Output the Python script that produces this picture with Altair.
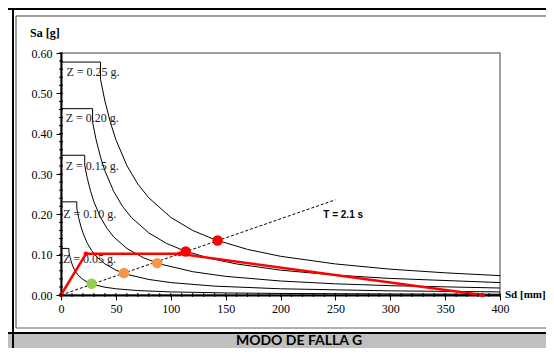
import altair as alt
import pandas as pd

# ---------------- data ----------------
z_names = ["Z = 0.05 g.", "Z = 0.10 g.", "Z = 0.15 g.", "Z = 0.20 g.", "Z = 0.25 g."]

sd_z05 = [0, 7.2, 7.2, 8, 9, 10, 12, 14, 16, 20, 25, 30, 40, 50, 70, 100, 150, 200, 300, 400]
sa_z05 = [0.1155, 0.1155, 0.107, 0.096, 0.086, 0.077, 0.064, 0.055, 0.048, 0.0385, 0.031, 0.0257,
          0.0193, 0.0154, 0.011, 0.0077, 0.0051, 0.0039, 0.0026, 0.0019]

sd_z10 = [0, 14.4, 14.4, 16, 18, 20, 24, 28, 32, 40, 50, 60, 80, 100, 140, 200, 300, 400]
sa_z10 = [0.231, 0.231, 0.214, 0.1925, 0.171, 0.154, 0.128, 0.11, 0.096, 0.077, 0.0616, 0.0513,
          0.0385, 0.0308, 0.022, 0.0154, 0.0103, 0.0077]

sd_z15 = [0, 21.6, 21.6, 24, 27, 30, 36, 42, 48, 60, 75, 90, 120, 150, 200, 250, 300, 400]
sa_z15 = [0.3465, 0.3465, 0.321, 0.289, 0.257, 0.231, 0.1925, 0.165, 0.144, 0.1155, 0.0924, 0.077,
          0.0578, 0.0462, 0.0347, 0.0277, 0.0231, 0.0173]

sd_z20 = [0, 28.8, 28.8, 32, 36, 40, 48, 56, 64, 80, 96, 112, 136, 160, 200, 250, 300, 400]
sa_z20 = [0.462, 0.462, 0.428, 0.385, 0.342, 0.308, 0.257, 0.22, 0.1925, 0.154, 0.128, 0.11,
          0.0906, 0.077, 0.0616, 0.0493, 0.0411, 0.0308]

sd_z25 = [0, 36, 36, 40, 45, 50, 60, 70, 80, 100, 120, 140, 170, 200, 250, 300, 350, 400]
sa_z25 = [0.5775, 0.5775, 0.535, 0.481, 0.428, 0.385, 0.321, 0.275, 0.241, 0.1925, 0.160, 0.1375,
          0.113, 0.096, 0.077, 0.064, 0.055, 0.048]

# label anchor points (Sd, Sa) for the Z labels
label_sd = [1.8, 2.0, 4.3, 4.3, 5.0]
label_sa = [0.089, 0.201, 0.321, 0.439, 0.552]

# period line T = 2.1 s
t_sd = [0, 250]
t_sa = [0, 0.236]
t_label = "T = 2.1 s"
t_label_sd = [239]
t_label_sa = [0.198]

# capacity curve
cap_sd = [0, 22.7, 108, 384]
cap_sa = [0, 0.102, 0.102, 0]

# performance points
pt_sd = [27.9, 57.3, 87.6, 113.6, 142.7]
pt_sa = [0.028, 0.0545, 0.079, 0.108, 0.135]
pt_col = ["#92D050", "#F79646", "#F79646", "#FF0000", "#FF0000"]

# axis ticks
y_major = [0.0, 0.1, 0.2, 0.3, 0.4, 0.5, 0.6]
x_major = [0, 50, 100, 150, 200, 250, 300, 350, 400]
y_minor = [0.0, 0.02, 0.04, 0.06, 0.08, 0.10, 0.12, 0.14, 0.16, 0.18, 0.20, 0.22, 0.24, 0.26, 0.28,
           0.30, 0.32, 0.34, 0.36, 0.38, 0.40, 0.42, 0.44, 0.46, 0.48, 0.50, 0.52, 0.54, 0.56, 0.58, 0.60]
x_minor = [0, 10, 20, 30, 40, 50, 60, 70, 80, 90, 100, 110, 120, 130, 140, 150, 160, 170, 180, 190,
           200, 210, 220, 230, 240, 250, 260, 270, 280, 290, 300, 310, 320, 330, 340, 350, 360, 370,
           380, 390, 400]

footer_text = "MODO DE FALLA G"

# ---------------- build tables ----------------
rows = []
for name, sds, sas in zip(z_names, [sd_z05, sd_z10, sd_z15, sd_z20, sd_z25],
                          [sa_z05, sa_z10, sa_z15, sa_z20, sa_z25]):
    for i, (a, b) in enumerate(zip(sds, sas)):
        rows.append({"z": name, "i": i, "sd": a, "sa": b})
curves_df = pd.DataFrame(rows)
labels_df = pd.DataFrame({"z": z_names, "sd": label_sd, "sa": label_sa})
tline_df = pd.DataFrame({"sd": t_sd, "sa": t_sa})
tlab_df = pd.DataFrame({"sd": t_label_sd, "sa": t_label_sa, "t": [t_label]})
cap_df = pd.DataFrame({"sd": cap_sd, "sa": cap_sa, "i": list(range(len(cap_sd)))})
pts_df = pd.DataFrame({"sd": pt_sd, "sa": pt_sa, "c": pt_col})
ymin_df = pd.DataFrame({"sa": y_minor})
xmin_df = pd.DataFrame({"sd": x_minor})

W, H = 439, 242
PAD_L, PAD_T = 53, 45
TOTAL_W, TOTAL_H = 538, 340
RIGHT = TOTAL_W - PAD_L       # right edge of canvas in plot coordinates
BOTTOM = TOTAL_H - PAD_T      # bottom edge of canvas in plot coordinates

xs = alt.Scale(domain=[0, 400], nice=False, zero=True)
ys = alt.Scale(domain=[0, 0.6], nice=False, zero=True)
x_axis = alt.Axis(values=x_major, format="d", title=None, labelPadding=3, grid=False,
                  labelFlush=False, labelOverlap=False)
y_axis = alt.Axis(values=y_major, format=".2f", title=None, labelPadding=4, grid=False,
                  labelFlush=False, labelOverlap=False)

X = lambda: alt.X("sd:Q", scale=xs, axis=x_axis)
Y = lambda: alt.Y("sa:Q", scale=ys, axis=y_axis)

one = alt.Data(values=[{}])

# ---------------- frame decorations ----------------
band = alt.Chart(one).mark_rect(color="#BFBFBF").encode(
    x=alt.value(-PAD_L), x2=alt.value(RIGHT), y=alt.value(281), y2=alt.value(BOTTOM))
footer = alt.Chart(one).mark_text(font="Lato", fontSize=14, fontWeight="bold", color="black",
                                  align="center", baseline="alphabetic").encode(
    x=alt.value(238), y=alt.value(292), text=alt.value(footer_text))
top_line = alt.Chart(one).mark_rule(color="black", strokeWidth=2).encode(
    x=alt.value(-PAD_L), x2=alt.value(RIGHT), y=alt.value(-44))
sep_line = alt.Chart(one).mark_rule(color="black", strokeWidth=2).encode(
    x=alt.value(-PAD_L), x2=alt.value(RIGHT), y=alt.value(280))
vert_line = alt.Chart(one).mark_rule(color="black", strokeWidth=2).encode(
    x=alt.value(-48), y=alt.value(-45), y2=alt.value(BOTTOM))
box_left = alt.Chart(one).mark_rule(color="#404040", strokeWidth=1).encode(
    x=alt.value(-45), y=alt.value(-37), y2=alt.value(275))
box_top = alt.Chart(one).mark_rule(color="#404040", strokeWidth=1).encode(
    x=alt.value(-45), x2=alt.value(RIGHT), y=alt.value(-37))
box_bot = alt.Chart(one).mark_rule(color="#606060", strokeWidth=1).encode(
    x=alt.value(-45), x2=alt.value(RIGHT), y=alt.value(275))

# ---------------- chart content ----------------
curves = alt.Chart(curves_df).mark_line(color="black", strokeWidth=1).encode(
    x=X(), y=Y(), detail="z:N", order="i:Q")
zlabels = alt.Chart(labels_df).mark_text(font="Liberation Serif", fontSize=12, color="#222222",
                                         align="left", baseline="middle").encode(
    x=X(), y=Y(), text="z:N")
tline = alt.Chart(tline_df).mark_line(color="black", strokeWidth=1, strokeDash=[3, 2]).encode(
    x=X(), y=Y())
tlab = alt.Chart(tlab_df).mark_text(font="Liberation Sans", fontSize=10, fontWeight="bold",
                                    color="black", align="left", baseline="middle").encode(
    x=X(), y=Y(), text="t:N")
cap = alt.Chart(cap_df).mark_line(color="#FF0000", strokeWidth=2.5).encode(
    x=X(), y=Y(), order="i:Q")
cap_pts = alt.Chart(cap_df).mark_circle(color="#FF0000", size=22, opacity=1).encode(
    x=X(), y=Y())
pts = alt.Chart(pts_df).mark_circle(size=110, opacity=1).encode(
    x=X(), y=Y(), color=alt.Color("c:N", scale=None))
ymin = alt.Chart(ymin_df).mark_rule(color="black", strokeWidth=1).encode(
    y=Y(), x=alt.value(-2), x2=alt.value(2))
xmin = alt.Chart(xmin_df).mark_rule(color="black", strokeWidth=1).encode(
    x=X(), y=alt.value(H - 2), y2=alt.value(H + 2))
sa_title = alt.Chart(one).mark_text(font="Liberation Serif", fontSize=12, fontWeight="bold",
                                    color="black", align="left", baseline="middle").encode(
    x=alt.value(-31), y=alt.value(-20), text=alt.value("Sa [g]"))
sd_title = alt.Chart(one).mark_text(font="Liberation Serif", fontSize=11, fontWeight="bold",
                                    color="black", align="left", baseline="middle").encode(
    x=alt.value(444), y=alt.value(H), text=alt.value("Sd [mm]"))

chart = alt.layer(
    band, top_line, sep_line, vert_line, box_left, box_top, box_bot, footer,
    curves, zlabels, tline, tlab, cap, cap_pts, pts, ymin, xmin, sa_title, sd_title,
).properties(
    width=W, height=H,
    autosize="none",
    padding={"left": PAD_L, "top": PAD_T, "right": TOTAL_W - PAD_L - W, "bottom": TOTAL_H - PAD_T - H},
    background="white",
).configure_view(
    stroke="#808080", strokeWidth=1.5
).configure_axis(
    labelFont="Liberation Serif", labelFontSize=12, labelColor="black",
    domainColor="black", domainWidth=2, tickColor="black", tickWidth=1, tickSize=5,
)

chart.save("out.html", embed_options={"renderer": "svg", "actions": False})
